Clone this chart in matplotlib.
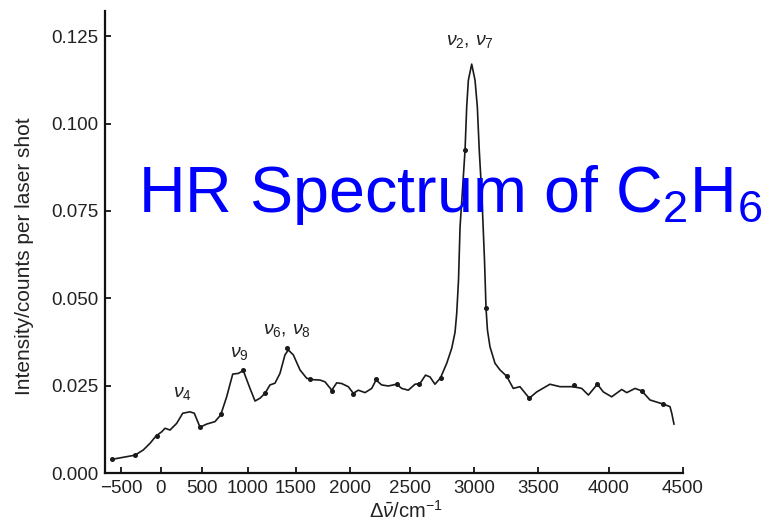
#### HR spectrum of C2H6 ####

# importing libraries
import numpy as np
import matplotlib
matplotlib.use("Agg")
import matplotlib.pyplot as plt
from matplotlib.ticker import FixedLocator, FormatStrFormatter


# data (Raman shift in cm-1, intensity in counts per shot)
shift = [-616, -325, -221, -137, -62, 9, 49, 110, 191, 265, 354, 406, 476,
         551, 641, 703, 768, 834, 895, 949, 1014, 1073, 1125, 1177, 1229,
         1281, 1333, 1385, 1420, 1472, 1537, 1599, 1657, 1722, 1768, 1831,
         1877, 1923, 1984, 2028, 2069, 2125, 2181, 2217, 2264, 2319, 2389,
         2431, 2486, 2539, 2578, 2621, 2656, 2695, 2738, 2787, 2826, 2852,
         2865, 2879, 2891, 2910, 2930, 2943, 2956, 2982, 3008, 3026, 3041,
         3063, 3082, 3094, 3105, 3125, 3164, 3203, 3255, 3307, 3359, 3432,
         3490, 3584, 3655, 3749, 3808, 3855, 3918, 3960, 4018, 4086, 4120,
         4176, 4221, 4277, 4367, 4412, 4424, 4439]
intensity = [0.0039, 0.0051, 0.0066, 0.0085, 0.0106, 0.0118, 0.0128, 0.0123,
             0.0142, 0.0171, 0.0175, 0.0171, 0.0131, 0.0140, 0.0147, 0.0166,
             0.0218, 0.0283, 0.0285, 0.0293, 0.0247, 0.0206, 0.0214, 0.0228,
             0.0252, 0.0257, 0.0285, 0.0338, 0.0352, 0.0338, 0.0295, 0.0271,
             0.0267, 0.0266, 0.0261, 0.0237, 0.0258, 0.0256, 0.0247, 0.0228,
             0.0237, 0.0230, 0.0242, 0.0266, 0.0252, 0.0249, 0.0254, 0.0242,
             0.0237, 0.0254, 0.0256, 0.0280, 0.0275, 0.0254, 0.0272, 0.0314,
             0.0357, 0.0403, 0.0457, 0.0552, 0.0704, 0.0810, 0.0924, 0.1048,
             0.1124, 0.1170, 0.1124, 0.1048, 0.0924, 0.0781, 0.0609, 0.0471,
             0.0409, 0.0361, 0.0314, 0.0295, 0.0277, 0.0242, 0.0247, 0.0214,
             0.0232, 0.0254, 0.0247, 0.0247, 0.0242, 0.0223, 0.0254, 0.0232,
             0.0218, 0.0239, 0.0230, 0.0242, 0.0235, 0.0209, 0.0197, 0.0190,
             0.0171, 0.0140]

# measured points marked on the curve
dot_shift = [-616, -325, -54, 476, 703, 949, 1177, 1410, 1630, 1831, 2028,
             2217, 2389, 2572, 2740, 2930, 3094, 3255, 3432, 3756, 3918,
             4221, 4367]
dot_intensity = [0.0039, 0.0051, 0.0107, 0.0131, 0.0168, 0.0295, 0.0230,
                 0.0358, 0.0268, 0.0236, 0.0227, 0.0268, 0.0254, 0.0255,
                 0.0273, 0.0924, 0.0471, 0.0277, 0.0214, 0.0252, 0.0254,
                 0.0235, 0.0197]

# band labels
band_labels = [r"$\nu_4$", r"$\nu_9$", r"$\nu_6,\,\nu_8$", r"$\nu_2,\,\nu_7$"]
band_x = [257, 903, 1406, 2969]
band_y = [0.0217, 0.0332, 0.0398, 0.1224]

# axis ticks
xticks = [-500, 0, 500, 1000, 1500, 2000, 2500, 3000, 3500, 4000, 4500]
yticks = [0.000, 0.025, 0.050, 0.075, 0.100, 0.125]

# the printed wavenumber axis is not evenly spaced, so we use a piecewise scale
scale_in = [-10700, -700, -500, 0, 500, 1000, 1500, 2000, 2500, 3000,
            3500, 4000, 4500, 14500]
scale_out = [-695, 105, 121, 161, 202, 248, 296, 350, 410, 474,
             538, 609, 683, 1359]


def forward(x):
    return np.interp(x, scale_in, scale_out)


def inverse(p):
    return np.interp(p, scale_out, scale_in)


# general style
plt.rcParams["font.family"] = ["Liberation Sans", "DejaVu Sans"]
plt.rcParams["mathtext.fontset"] = "custom"
plt.rcParams["mathtext.rm"] = "Liberation Sans"
plt.rcParams["mathtext.it"] = "Liberation Sans:italic"

fig = plt.figure(figsize=(7.81, 5.22), dpi=100)
ax = fig.add_axes([105 / 781, 49 / 522, 578 / 781, 462 / 522])

# spectrum
ax.set_xscale("function", functions=(forward, inverse))
ax.plot(shift, intensity, color="#1a1a1a", linewidth=1.2)
ax.plot(dot_shift, dot_intensity, linestyle="none", marker="o",
        markersize=2.6, color="#1a1a1a")

# band labels
for lab, bx, by in zip(band_labels, band_x, band_y):
    ax.text(bx, by, lab, ha="center", va="baseline", fontsize=14,
            color="#222222")

# axes
ax.set_xlim(-700, 4500)
ax.set_ylim(0, 0.1322)
ax.xaxis.set_major_locator(FixedLocator(xticks))
ax.yaxis.set_major_locator(FixedLocator(yticks))
ax.xaxis.set_minor_locator(FixedLocator([]))
ax.yaxis.set_major_formatter(FormatStrFormatter("%.3f"))
ax.tick_params(direction="in", length=4, width=1.4, labelsize=13.5,
               colors="#222222", pad=5)
ax.tick_params(axis="x", pad=5)
for side in ["top", "right"]:
    ax.spines[side].set_visible(False)
for side in ["left", "bottom"]:
    ax.spines[side].set_linewidth(1.6)
    ax.spines[side].set_color("#111111")

ax.set_ylabel("Intensity/counts per laser shot", fontsize=15, color="#222222")
ax.yaxis.set_label_coords(-0.123, 0.47)
ax.set_xlabel(r"$\Delta\bar{\nu}$/cm$^{-1}$", fontsize=14.5, color="#222222")
ax.xaxis.set_label_coords(0.52, -0.058)

# big blue title over the plot
fig.text(138 / 781, 1 - 212 / 522, r"HR Spectrum of C$_2$H$_6$",
         fontsize=46.5, color="#0000ff", ha="left", va="baseline")

plt.savefig("out.png", dpi=100)
